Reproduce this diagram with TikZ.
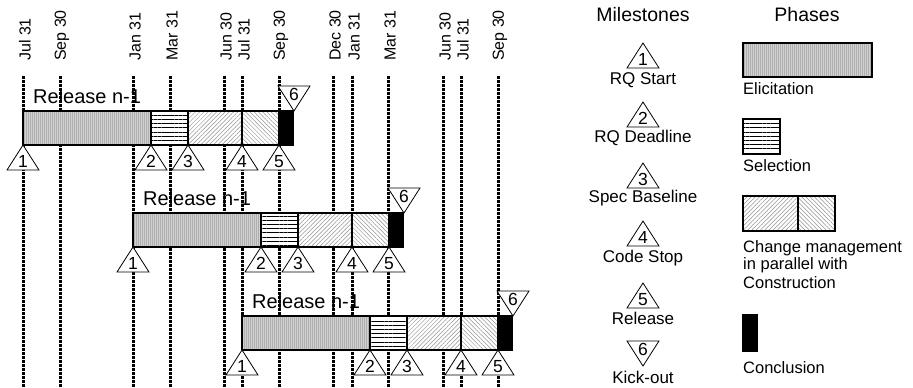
\documentclass[tikz,border=0pt]{standalone}
\usepackage{fontspec}
\setmainfont{Liberation Sans}
\usetikzlibrary{patterns.meta}
\begin{document}
\begin{tikzpicture}[x=1pt,y=-1pt,
  every node/.style={inner sep=0pt},
  dline/.style={line width=3pt, dash pattern=on 2.6pt off 1.4pt},
  datelbl/.style={rotate=90, anchor=west, font=\fontsize{16}{18}\selectfont},
  ph/.style={draw, line width=1.3pt},
  elic/.style={ph, preaction={fill=gray!38}, pattern={Lines[angle=90,distance=2pt,line width=0.6pt]}, pattern color=gray!62},
  sel/.style={ph, preaction={fill=white}, pattern={Lines[angle=0,distance=4.2pt,line width=0.4pt]}, pattern color=black},
  chg/.style={ph, preaction={fill=white}, pattern={Lines[angle=45,distance=3pt,line width=0.5pt]}, pattern color=gray!85},
  cons/.style={ph, preaction={fill=white}, pattern={Lines[angle=-45,distance=3pt,line width=0.5pt]}, pattern color=gray!85},
  fin/.style={ph, fill=black},
  tri/.style={draw, line width=0.8pt, fill=white},
  num/.style={font=\fontsize{17.5}{19}\selectfont},
  rel/.style={font=\fontsize{20}{22}\selectfont, anchor=base west},
  title/.style={font=\fontsize{19.5}{22}\selectfont},
  lgd/.style={font=\fontsize{17}{19}\selectfont},
  phl/.style={font=\fontsize{16.5}{18}\selectfont, anchor=west},
]
\useasboundingbox (0,0) rectangle (913,388);

% dotted date lines and labels
\foreach \x/\lab [count=\i] in {23/Jul 31,60/Sep 30,133/Jan 31,170/Mar 31,224/Jun 30,242/Jul 31,279/Sep 30,333/Dec 30,352/Jan 31,388/Mar 31,443/Jun 30,461/Jul 31,498/Sep 30}{
  \coordinate (dt\i) at (\x,76);
  \coordinate (db\i) at (\x,388);
  \draw[dline] (dt\i) -- (db\i);
  \node[datelbl] (dl\i) at ({\x+2},61) {\lab};
}

% release bars
\foreach \o/\yt/\k in {0/111/a,110/213/b,219/316/c}{
  \path[elic] ({23+\o},\yt) rectangle ({151+\o},{\yt+34});
  \path[sel]  ({151+\o},\yt) rectangle ({188+\o},{\yt+34});
  \path[chg]  ({188+\o},\yt) rectangle ({242+\o},{\yt+34});
  \path[cons] ({242+\o},\yt) rectangle ({279+\o},{\yt+34});
  \path[fin]  ({279+\o},\yt) rectangle ({293+\o},{\yt+34});
  \node[rel] (rel\k) at ({33+\o},{\yt-7.5}) {Release n-1};
  \foreach \m/\xx in {1/23,2/151,3/188,4/242,5/279}{
    \path[tri] ({\xx+\o},{\yt+34}) -- ({\xx+\o-16},{\yt+59}) -- ({\xx+\o+16},{\yt+59}) -- cycle;
    \node[num] (ms\k\m) at ({\xx+\o},{\yt+50.5}) {\m};
  }
  \path[tri] ({294+\o},\yt) -- ({294+\o-16},{\yt-25}) -- ({294+\o+16},{\yt-25}) -- cycle;
  \node[num] (ms\k6) at ({294+\o},{\yt-16.5}) {6};
}

% legend: milestones
\node[title] (tms) at (643,15) {Milestones};
\node[title] (tph) at (807,15) {Phases};
\foreach \m/\ya/\yl/\lab in {1/43/80/RQ Start,2/102/138/RQ Deadline,3/163/198/Spec Baseline,4/221/258/Code Stop,5/283/318/Release}{
  \path[tri] (643,\ya) -- (627,{\ya+25}) -- (659,{\ya+25}) -- cycle;
  \node[num] (lm\m) at (643,{\ya+16.5}) {\m};
  \node[lgd] (ll\m) at (643,\yl) {\lab};
}
\path[tri] (643,366) -- (627,341) -- (659,341) -- cycle;
\node[num] (lm6) at (643,349.5) {6};
\node[lgd] (ll6) at (643,377) {Kick-out};

% legend: phases
\path[elic] (743,43) rectangle (872,77);
\node[phl] (pe) at (743,89) {Elicitation};
\path[sel] (743,119) rectangle (780,154);
\node[phl] (ps) at (743,166) {Selection};
\path[chg] (743,196) rectangle (798,231);
\path[cons] (798,196) rectangle (835,231);
\node[phl] (pc1) at (743,248) {Change management};
\node[phl] (pc2) at (743,265.5) {in parallel with};
\node[phl] (pc3) at (743,283) {Construction};
\path[fin] (743,315) rectangle (757,351);
\node[phl] (pf) at (743,368) {Conclusion};
\end{tikzpicture}
\end{document}
